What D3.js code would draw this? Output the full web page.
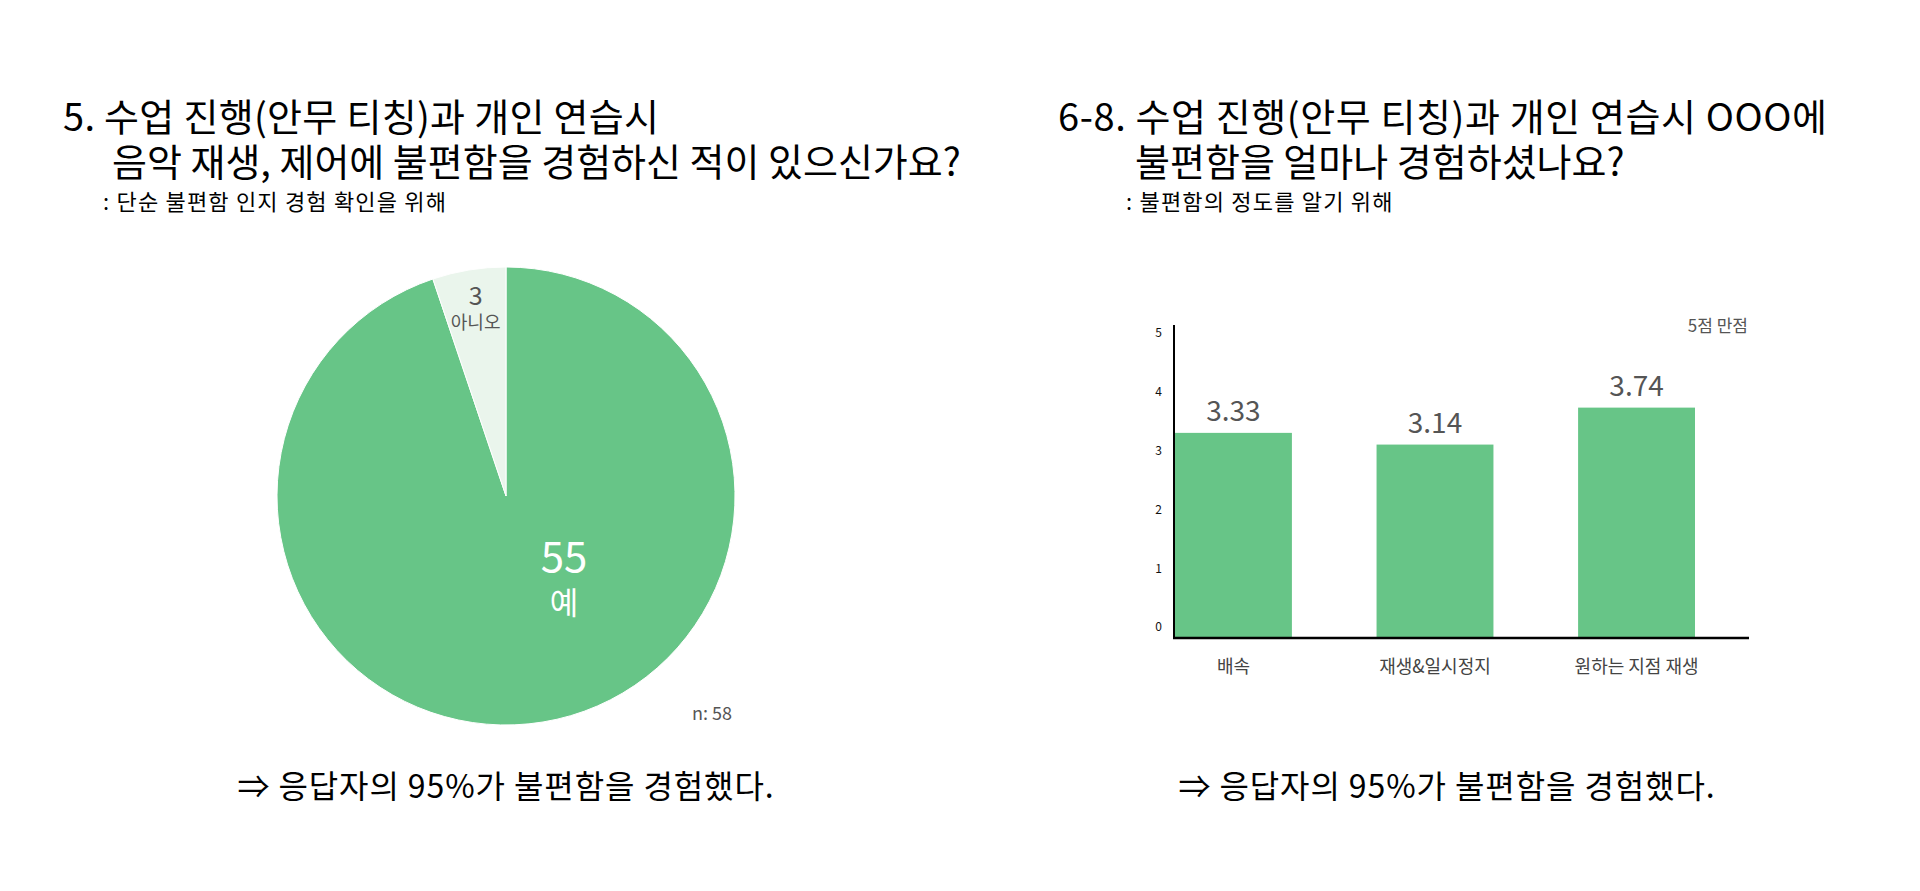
<!DOCTYPE html>
<html>
<head>
<meta charset="utf-8">
<script src="https://cdn.jsdelivr.net/npm/d3@7"></script>
<style>
  body { margin: 0; background: #fff; }
  svg { display: block; }
  text { font-family: "Noto Sans CJK KR", "Noto Sans", sans-serif; }
</style>
</head>
<body>
<svg id="chart" width="1920" height="891"></svg>
<script>
// ---- data ----
const pieLabels = ["예", "아니오"];
const pieValues = [55, 3];
const pieN = 58;

const barCategories = ["배속", "재생&일시정지", "원하는 지점 재생"];
const barValues = [3.33, 3.14, 3.74];
const yTickValues = [0, 1, 2, 3, 4, 5];

const leftTitle = ["5. 수업 진행(안무 티칭)과 개인 연습시", "음악 재생, 제어에 불편함을 경험하신 적이 있으신가요?"];
const leftSub = ": 단순 불편함 인지 경험 확인을 위해";
const rightTitle = ["6-8. 수업 진행(안무 티칭)과 개인 연습시 OOO에", "불편함을 얼마나 경험하셨나요?"];
const rightSub = ": 불편함의 정도를 알기 위해";
const conclusion = "⇒ 응답자의 95%가 불편함을 경험했다.";

// ---- style ----
const green = "#67c587";
const paleGreen = "#eaf5ec";
const gray = "#555";

const svg = d3.select("#chart");

// titles
function drawTitle(x1, x2, lines, sub, ls1) {
  const g = svg.append("g").attr("class", "title");
  g.append("text").attr("x", x1).attr("y", 131)
    .attr("font-size", 38).attr("letter-spacing", ls1).attr("fill", "#000").text(lines[0]);
  g.append("text").attr("x", x2).attr("y", 176)
    .attr("font-size", 38).attr("fill", "#000").text(lines[1]);
  g.append("text").attr("x", x2 - 9).attr("y", 210)
    .attr("font-size", 22).attr("letter-spacing", 1.2).attr("fill", "#000").text(sub);
}
drawTitle(63, 112, leftTitle, leftSub, 0.3);
drawTitle(1058, 1135, rightTitle, rightSub, 0.6);

// ---- pie ----
const pc = { x: 506, y: 496, r: 229 };
const pieG = svg.append("g").attr("transform", `translate(${pc.x},${pc.y})`);

const pie = d3.pie().sort(null).value(d => d.value);
const arcs = pie(pieLabels.map((l, i) => ({ label: l, value: pieValues[i] })));
const arc = d3.arc().innerRadius(0).outerRadius(pc.r);

pieG.selectAll("path.slice")
  .data(arcs)
  .enter().append("path")
  .attr("class", "slice")
  .attr("d", arc)
  .attr("fill", (d, i) => i === 0 ? green : paleGreen)
  .attr("stroke", "#fff")
  .attr("stroke-width", 1);

// label placement (angle in degrees, null = slice middle)
const pieLabelLayout = [
  { angle: 145.4, rf: 0.446, color: "#fff", vSize: 42, nSize: 31, vDy: -8, nDy: 34 },
  { angle: null, rf: 0.82, color: gray, vSize: 25, nSize: 18, vDy: -6, nDy: 18 }
];

arcs.forEach((d, i) => {
  const L = pieLabelLayout[i];
  const a = L.angle === null ? (d.startAngle + d.endAngle) / 2 : L.angle * Math.PI / 180;
  const px = Math.sin(a) * pc.r * L.rf;
  const py = -Math.cos(a) * pc.r * L.rf;
  pieG.append("text").attr("x", px).attr("y", py + L.vDy)
    .attr("text-anchor", "middle").attr("font-size", L.vSize).attr("fill", L.color)
    .text(d.data.value);
  pieG.append("text").attr("x", px).attr("y", py + L.nDy)
    .attr("text-anchor", "middle").attr("font-size", L.nSize).attr("fill", L.color)
    .text(d.data.label);
});

svg.append("text").attr("x", 732).attr("y", 720)
  .attr("text-anchor", "end").attr("font-size", 18).attr("fill", gray)
  .text("n: " + pieN);

// ---- bars ----
const x = d3.scaleBand().domain(barCategories).range([1175, 1695]).paddingInner(0.42).paddingOuter(0);
const y = d3.scaleLinear().domain([0, 5]).range([638, 330]);
const tickY = d3.scaleLinear().domain([0, 5]).range([627, 333]);

const barG = svg.append("g");
barG.selectAll("rect.bar")
  .data(barValues)
  .enter().append("rect")
  .attr("class", "bar")
  .attr("x", (d, i) => x(barCategories[i]))
  .attr("y", d => y(d))
  .attr("width", x.bandwidth())
  .attr("height", d => y(0) - y(d))
  .attr("fill", green);

barG.selectAll("text.value")
  .data(barValues)
  .enter().append("text")
  .attr("class", "value")
  .attr("x", (d, i) => x(barCategories[i]) + x.bandwidth() / 2)
  .attr("y", d => y(d) - 12)
  .attr("text-anchor", "middle")
  .attr("font-size", 28)
  .attr("fill", gray)
  .text(d => d.toFixed(2));

// y tick labels
const yAxis = svg.append("g")
  .attr("transform", "translate(1174,0)")
  .call(d3.axisLeft(tickY).tickValues(yTickValues).tickFormat(d3.format("d")).tickSize(0).tickPadding(12));
yAxis.select(".domain").remove();
yAxis.selectAll("text")
  .attr("font-size", 12).attr("fill", "#111")
  .attr("font-family", "\"Noto Sans\", sans-serif");

// category labels
const xAxis = svg.append("g")
  .attr("transform", "translate(0,638)")
  .call(d3.axisBottom(x).tickSize(0).tickPadding(22));
xAxis.select(".domain").remove();
xAxis.selectAll("text")
  .attr("font-size", 18).attr("fill", "#444")
  .attr("font-family", "\"Noto Sans CJK KR\", sans-serif");

// axis lines
svg.append("line")
  .attr("x1", 1174).attr("x2", 1174)
  .attr("y1", 325).attr("y2", y(0) + 1)
  .attr("stroke", "#000").attr("stroke-width", 2);
svg.append("line")
  .attr("x1", 1173).attr("x2", 1749)
  .attr("y1", y(0)).attr("y2", y(0))
  .attr("stroke", "#000").attr("stroke-width", 2.5);

svg.append("text").attr("x", 1748).attr("y", 332)
  .attr("text-anchor", "end").attr("font-size", 17).attr("fill", gray)
  .text("5점 만점");

// conclusions
svg.append("text").attr("x", 506).attr("y", 798)
  .attr("text-anchor", "middle").attr("font-size", 32).attr("letter-spacing", 0.9).attr("fill", "#000")
  .text(conclusion);
svg.append("text").attr("x", 1447).attr("y", 798)
  .attr("text-anchor", "middle").attr("font-size", 32).attr("letter-spacing", 0.9).attr("fill", "#000")
  .text(conclusion);
</script>
</body>
</html>
